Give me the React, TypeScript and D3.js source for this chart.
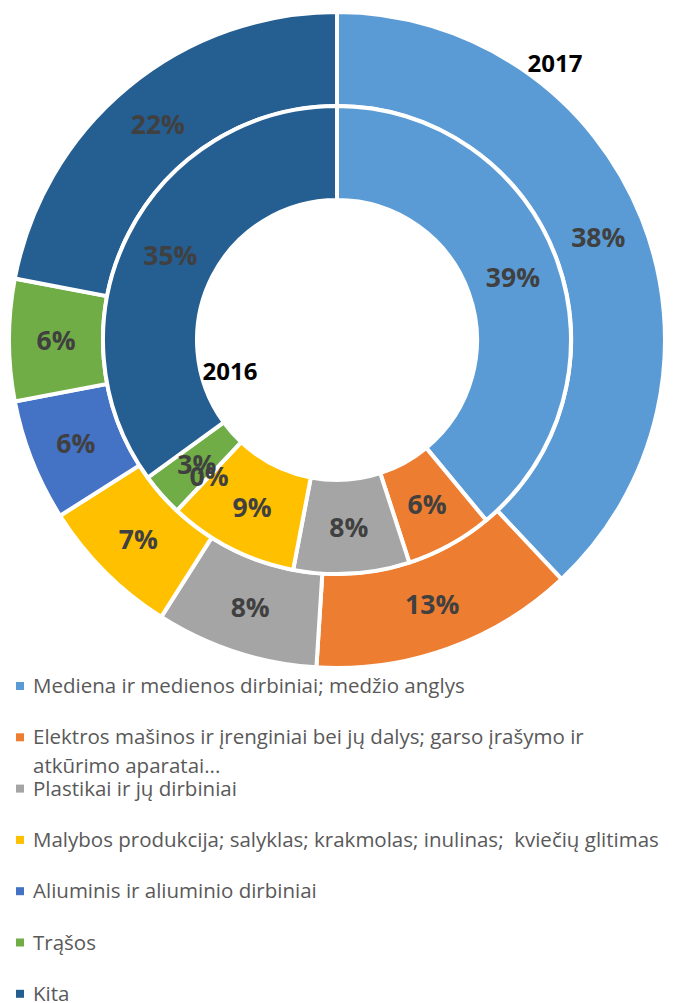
import React from "react";
import * as d3 from "d3";

const categories = [
  "Mediena ir medienos dirbiniai; medžio anglys",
  "Elektros mašinos ir įrenginiai bei jų dalys; garso įrašymo ir\natkūrimo aparatai...",
  "Plastikai ir jų dirbiniai",
  "Malybos produkcija; salyklas; krakmolas; inulinas;  kviečių glitimas",
  "Aliuminis ir aliuminio dirbiniai",
  "Trąšos",
  "Kita",
];
const values2017 = [38, 13, 8, 7, 6, 6, 22];
const values2016 = [39, 6, 8, 9, 0, 3, 35];
const colors = ["#5B9BD5", "#ED7D31", "#A5A5A5", "#FFC000", "#4472C4", "#70AD47", "#255E91"];

const W = 676;
const H = 1003;
const cx = 337;
const cy = 340;
const rOuter = 328;
const rMid = 234;
const rHole = 140;

export default function App() {
  const pie = d3.pie<number>().sort(null).value((d) => d);
  const arcsOuter = pie(values2017);
  const arcsInner = pie(values2016);
  const arcOuter = d3.arc<d3.PieArcDatum<number>>().innerRadius(rMid).outerRadius(rOuter);
  const arcInner = d3.arc<d3.PieArcDatum<number>>().innerRadius(rHole).outerRadius(rMid);
  const total = (v: number[]) => d3.sum(v);

  const legendY = d3.scaleLinear().domain([0, 1]).range([693, 744.3]);

  const labelStyle: React.CSSProperties = {
    fontFamily: "'Open Sans', sans-serif",
    fontWeight: 700,
    fontSize: 26.5,
    fill: "#404040",
  };

  return (
    <svg width={W} height={H} style={{ position: "absolute", left: 0, top: 0 }}>
      <rect width={W} height={H} fill="#fff" />
      <g transform={`translate(${cx},${cy})`}>
        {arcsOuter.map((a, i) => (
          <path key={"o" + i} d={arcOuter(a) || ""} fill={colors[i]} stroke="#fff" strokeWidth={4} />
        ))}
        {arcsInner.map((a, i) => (
          <path key={"i" + i} d={arcInner(a) || ""} fill={colors[i]} stroke="#fff" strokeWidth={4} />
        ))}
        {arcsOuter.map((a, i) => {
          const [x, y] = arcOuter.centroid(a);
          return (
            <text key={"lo" + i} x={x} y={y} textAnchor="middle" dominantBaseline="central" style={labelStyle}>
              {Math.round((a.data / total(values2017)) * 100)}%
            </text>
          );
        })}
        {arcsInner.map((a, i) => {
          const [x, y] = arcInner.centroid(a);
          return (
            <text key={"li" + i} x={x} y={y} textAnchor="middle" dominantBaseline="central" style={labelStyle}>
              {Math.round((a.data / total(values2016)) * 100)}%
            </text>
          );
        })}
      </g>
      <text x={555} y={72} textAnchor="middle" style={{ fontFamily: "'Open Sans', sans-serif", fontWeight: 700, fontSize: 24, fill: "#000" }}>
        2017
      </text>
      <text x={230} y={380} textAnchor="middle" style={{ fontFamily: "'Open Sans', sans-serif", fontWeight: 700, fontSize: 24, fill: "#000" }}>
        2016
      </text>
      {categories.map((c, i) => {
        const y = legendY(i);
        const lines = c.split("\n");
        return (
          <g key={"lg" + i}>
            <rect x={16} y={y - 11} width={8} height={8} fill={colors[i]} />
            {lines.map((l, j) => (
              <text
                key={j}
                x={33}
                y={y + j * 29}
                xmlSpace="preserve"
                style={{ fontFamily: "'Open Sans', sans-serif", fontSize: 20.5, fill: "#595959", whiteSpace: "pre" }}
              >
                {l}
              </text>
            ))}
          </g>
        );
      })}
    </svg>
  );
}
